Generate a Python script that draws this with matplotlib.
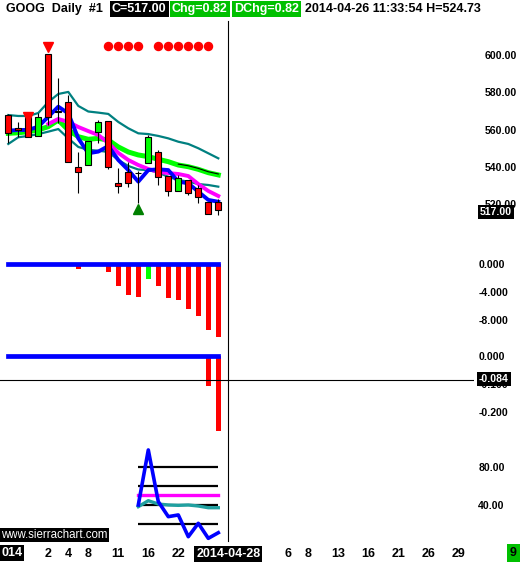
import numpy as np
import matplotlib.pyplot as plt
from matplotlib.transforms import blended_transform_factory
from matplotlib.lines import Line2D

W, H = 523, 562
DPI = 100
FONT = 'Liberation Sans'
plt.rcParams['font.family'] = [FONT, 'DejaVu Sans']

# ---- values, bar 0 = oldest visible daily bar ----
bars = np.arange(22)
opens = [567.8, 560.7, 567.8, 556.5, 600.5, 570.0, 575.0, 539.8, 541.2, 558.9, 564.4,
         531.2, 537.1, 536.6, 541.9, 547.8, 535.1, 527.2, 533.0, 528.5, 521.0, 521.0]
closes = [558.0, 559.8, 556.2, 566.6, 566.9, 569.3, 542.5, 537.1, 553.8, 563.9, 539.8,
          529.8, 531.2, 536.6, 555.9, 534.8, 527.2, 533.9, 525.8, 523.7, 515.0, 517.0]
highs = [568.5, 564.2, 568.5, 568.7, 600.5, 587.5, 578.6, 547.8, 553.8, 565.1, 564.4,
         539.2, 542.8, 538.0, 557.1, 549.0, 535.1, 535.7, 533.0, 530.3, 521.0, 522.6]
lows = [552.6, 556.2, 556.2, 556.5, 562.5, 563.4, 542.5, 526.2, 541.2, 552.6, 539.0,
        525.8, 529.4, 520.5, 541.9, 530.3, 524.4, 527.2, 525.0, 520.5, 515.0, 514.2]

ma_blue = [559.4, 559.8, 559.8, 561.6, 566.9, 572.3, 568.7, 555.3, 547.3, 548.2, 551.2,
           543.7, 538.3, 532.1, 538.3, 538.7, 538.3, 532.1, 531.2, 526.7, 522.3, 521.3]
ma_green = [558.0, 558.3, 558.9, 559.8, 561.6, 565.1, 559.8, 556.2, 554.8, 555.3, 554.4,
            550.7, 548.0, 546.4, 545.5, 544.1, 542.8, 541.0, 540.1, 538.7, 536.9, 535.7]
ma_magenta_bars = np.arange(4, 22)
ma_magenta = [563.0, 565.7, 564.1, 561.4, 559.2, 557.1, 552.8, 547.5, 543.7, 541.0, 538.9,
              537.3, 536.7, 536.2, 535.1, 530.8, 527.1, 524.4]
ma_black_bars = np.arange(17, 22)
ma_black = [541.5, 540.6, 539.2, 537.4, 536.2]
band_upper = [567.8, 567.3, 567.3, 568.9, 574.8, 579.1, 580.2, 572.7, 569.7, 569.1, 568.4,
              564.1, 560.7, 558.0, 557.6, 556.6, 555.3, 553.5, 552.3, 550.0, 547.3, 544.6]
band_lower = [552.3, 555.9, 556.6, 557.6, 558.9, 560.3, 555.3, 550.7, 549.1, 548.7, 548.0,
              543.7, 540.5, 538.6, 538.3, 536.9, 534.7, 533.0, 532.1, 530.8, 530.3, 529.4]

sell_bars, sell_prices = [2, 4], [567.0, 604.3]
buy_bars, buy_prices = [13], [517.5]
dot_bars = [10, 11, 12, 13, 15, 16, 17, 18, 19, 20]
dot_price = 604.8

hist1 = [0, 0, 0, 0, 0, 0, 0, -0.7, -0.3, 0, -1.1, -3.1, -4.4, -4.7, -2.2, -3.2,
         -4.9, -5.1, -6.4, -7.4, -9.4, -10.4]
hist1_colors = ['#FF0000'] * 22
hist1_colors[8] = '#33CC99'
hist1_colors[14] = '#00FF00'
hist2 = [0] * 20 + [-0.106, -0.267]

osc_bars = np.arange(13, 22)
osc_blue = [39.7, 97.6, 43.2, 27.4, 29.2, 6.3, 20.4, 4.6, 10.5]
osc_teal = [37.9, 44.2, 40.7, 39.7, 39.3, 39.7, 38.6, 36.8, 36.8]
osc_magenta = [50] * 9
osc_levels = [80, 60, 40, 20]

date_ticks = [4, 6, 8, 11, 14, 17, 22, 28, 30, 33, 36, 39, 42, 45]
date_labels = ['2', '4', '8', '11', '16', '22', '2014-04-28', '6', '8', '13', '16',
               '21', '26', '29']
cursor_bar = 22
cursor_value = -0.084

fig = plt.figure(figsize=(W / DPI, H / DPI), dpi=DPI, facecolor='white')
AX_RIGHT = 474
XLIM = (-0.83, (AX_RIGHT - 8.3) / 10)


def add_panel(top, bottom, ylim, ticks, labels, pad):
    ax = fig.add_axes([0, 1 - bottom / H, AX_RIGHT / W, (bottom - top) / H])
    ax.set_xlim(*XLIM)
    ax.set_ylim(*ylim)
    for s in ax.spines.values():
        s.set_visible(False)
    ax.set_facecolor('none')
    ax.yaxis.tick_right()
    ax.set_yticks(ticks)
    ax.set_yticklabels(labels, fontsize=7.6, fontweight='bold')
    ax.tick_params(axis='y', length=0, pad=pad)
    ax.set_xticks([])
    return ax


# price panel
ax1 = add_panel(30, 225, (508.85, 613.4), [600, 580, 560, 540, 520],
                ['600.00', '580.00', '560.00', '540.00', '520.00'], 8)
ax1.plot(bars, band_upper, color='#008080', lw=1.6, zorder=2)
ax1.plot(bars, band_lower, color='#008080', lw=1.6, zorder=2)
ax1.plot(bars, ma_green, color='#00FF00', lw=3.6, zorder=2)
ax1.plot(ma_black_bars, ma_black, color='black', lw=0.8, zorder=2)
ax1.plot(ma_magenta_bars, ma_magenta, color='#FF00FF', lw=2.8, zorder=2)
ax1.plot(bars, ma_blue, color='#0000FF', lw=2.8, zorder=2)

o = np.array(opens)
c = np.array(closes)
candle_colors = ['#00FF00' if cc > oo else '#FF0000' for oo, cc in zip(o, c)]
ax1.vlines(bars, lows, highs, color='black', lw=0.8, zorder=3)
ax1.bar(bars, np.abs(c - o), bottom=np.minimum(o, c), width=0.6, color=candle_colors,
        edgecolor='black', linewidth=0.8, zorder=4)
ax1.plot(sell_bars, sell_prices, ls='', marker='v', ms=7.5, color='#FF0000',
         zorder=5, clip_on=False)
ax1.plot(buy_bars, buy_prices, ls='', marker='^', ms=7.5, color='#008000',
         zorder=5, clip_on=False)
ax1.plot(dot_bars, [dot_price] * len(dot_bars), ls='', marker='o', ms=5.8,
         color='#FF0000', zorder=5)

# histogram panel
ax2 = add_panel(245, 340, (-10.857, 2.714), [0, -4, -8], ['0.000', '-4.000', '-8.000'], 3)
ax2.bar(bars, hist1, width=0.5, color=hist1_colors, zorder=2)
ax2.plot(bars, [0] * 22, color='#0000FF', lw=3.4, solid_capstyle='projecting', zorder=3)

# second histogram panel
ax3 = add_panel(345, 440, (-0.3, 0.0393), [0, -0.1, -0.2], ['0.000', '-0.100', '-0.200'], 3)
ax3.bar(bars, hist2, width=0.5, color='#FF0000', zorder=2)
ax3.plot(bars, [0] * 22, color='#0000FF', lw=3.4, solid_capstyle='projecting', zorder=3)
ax3.axhline(cursor_value, color='black', lw=0.8, zorder=4)

# oscillator panel
ax4 = add_panel(445, 545, (-2.42, 102.8), [80, 40], ['80.00', '40.00'], 3)
ax4.hlines(osc_levels, osc_bars[0], osc_bars[-1], colors='black', lw=1.6, zorder=2)
ax4.plot(osc_bars, osc_magenta, color='#FF00FF', lw=2.4, zorder=3)
ax4.plot(osc_bars, osc_teal, color='#20A0A0', lw=2.4, zorder=3)
ax4.plot(osc_bars, osc_blue, color='#0000FF', lw=2.6, zorder=4)
ax4.set_xticks(date_ticks)
ax4.set_xticklabels(date_labels, fontsize=9, fontweight='bold')
ax4.tick_params(axis='x', length=0, pad=2)
for lab in ax4.get_xticklabels():
    if lab.get_text() == '2014-04-28':
        lab.set_color('white')
        lab.set_bbox(dict(facecolor='black', edgecolor='none', pad=1.5))

# crosshair vertical line through all panels
tr = blended_transform_factory(ax1.transData, fig.transFigure)
fig.add_artist(Line2D([cursor_bar, cursor_bar], [1 - 21 / H, 1 - 541 / H],
                      transform=tr, color='black', lw=0.8))


def px(x, y):
    return x / W, 1 - y / H


# header
fig.text(*px(6, 9), 'GOOG  Daily  #1', fontsize=9, fontweight='bold', va='center')
fig.text(*px(112, 9), 'C=517.00', fontsize=9, fontweight='bold', va='center', color='white',
         bbox=dict(facecolor='black', edgecolor='none', pad=1.5))
fig.text(*px(172, 9), 'Chg=0.82', fontsize=9, fontweight='bold', va='center', color='white',
         bbox=dict(facecolor='#00C000', edgecolor='none', pad=1.5))
fig.text(*px(234, 9), 'DChg=0.82', fontsize=9, fontweight='bold', va='center', color='white',
         bbox=dict(facecolor='#00C000', edgecolor='none', pad=1.5))
fig.text(*px(305, 9), '2014-04-26 11:33:54 H=524.73', fontsize=9, fontweight='bold',
         va='center')

# value boxes on the right scale
fig.text(*px(480, 212), '517.00', fontsize=7.6, fontweight='bold', va='center', color='white',
         bbox=dict(facecolor='black', edgecolor='none', pad=1.2))
fig.text(*px(479, 379), '-0.084', fontsize=7.6, fontweight='bold', va='center', color='white',
         bbox=dict(facecolor='black', edgecolor='none', pad=1.2))

# bottom row extras
fig.text(*px(1, 535), 'www.sierrachart.com', fontsize=8.3, va='center', color='white',
         bbox=dict(facecolor='black', edgecolor='none', pad=0.8))
fig.text(*px(1, 553), '014', fontsize=9, fontweight='bold', va='center', color='white',
         bbox=dict(facecolor='black', edgecolor='none', pad=1.5))
fig.text(*px(510, 553), '9', fontsize=9, fontweight='bold', va='center', color='black',
         bbox=dict(facecolor='#00C000', edgecolor='none', pad=2))

fig.savefig('out.png', dpi=DPI, facecolor='white')
